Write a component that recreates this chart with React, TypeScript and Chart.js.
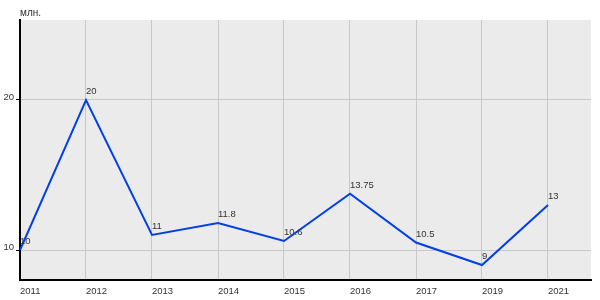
import React, { useEffect, useRef } from "react";
import { Chart, registerables } from "chart.js";

Chart.register(...registerables);

const years = ["2011", "2012", "2013", "2014", "2015", "2016", "2017", "2019", "2021"];
const values = [10, 20, 11, 11.8, 10.6, 13.75, 10.5, 9, 13];
const valueLabels = ["10", "20", "11", "11.8", "10.6", "13.75", "10.5", "9", "13"];
const yTicks = [10, 20];
const unitLabel = "млн.";

const FONT = "'Liberation Sans', Arial, sans-serif";

const labelPlugin = {
  id: "valueLabels",
  afterDatasetsDraw(chart: any) {
    const ctx = chart.ctx;
    const meta = chart.getDatasetMeta(0);
    ctx.save();
    ctx.font = `9.5px ${FONT}`;
    ctx.fillStyle = "#333";
    ctx.textAlign = "left";
    ctx.textBaseline = "alphabetic";
    meta.data.forEach((pt: any, i: number) => {
      ctx.fillText(valueLabels[i], pt.x, pt.y - 6);
    });
    ctx.font = `10px ${FONT}`;
    ctx.fillText(unitLabel, chart.chartArea.left, 16);
    ctx.restore();
  },
};

export default function App() {
  const ref = useRef<HTMLCanvasElement>(null);
  useEffect(() => {
    document.body.style.margin = "0";
    const chart = new Chart(ref.current!, {
      type: "line",
      data: {
        datasets: [
          {
            data: values.map((v, i) => ({ x: i, y: v })),
            borderColor: "#0040e8",
            borderWidth: 2,
            pointRadius: 0,
            tension: 0,
            fill: false,
          },
        ],
      },
      options: {
        animation: false,
        responsive: false,
        maintainAspectRatio: false,
        layout: { padding: { top: 20, right: 9, left: 0, bottom: 0 } },
        plugins: { legend: { display: false }, tooltip: { enabled: false } },
        scales: {
          x: {
            type: "linear",
            min: 0,
            max: 571 / 66,
            afterBuildTicks: (s: any) => {
              s.ticks = years.map((_, i) => ({ value: i }));
            },
            afterFit: (s: any) => {
              s.height = 20;
            },
            grid: { color: "#c8c8c8", lineWidth: 1, drawTicks: false },
            border: { color: "#000", width: 2 },
            ticks: {
              align: "start",
              padding: 6,
              color: "#333",
              font: { size: 9.5, family: FONT },
              callback: (v: any) => years[v as number] ?? "",
              maxRotation: 0,
              autoSkip: false,
            },
          },
          y: {
            min: 8,
            max: 8 + 260 / 15,
            afterBuildTicks: (s: any) => {
              s.ticks = yTicks.map((v) => ({ value: v }));
            },
            afterFit: (s: any) => {
              s.width = 20;
            },
            grid: { color: "#c8c8c8", lineWidth: 1, tickLength: 4, tickColor: "#000" },
            border: { color: "#000", width: 2 },
            ticks: {
              padding: 2,
              labelOffset: -3,
              color: "#333",
              font: { size: 9.5, family: FONT },
              callback: (v: any) => String(v),
            },
          },
        },
      },
      plugins: [
        {
          id: "bg",
          beforeDraw(chart: any) {
            const { ctx, chartArea: a } = chart;
            ctx.save();
            ctx.fillStyle = "#ebebeb";
            ctx.fillRect(a.left, a.top, a.right - a.left, a.bottom - a.top);
            ctx.restore();
          },
        },
        labelPlugin,
      ],
    } as any);
    return () => chart.destroy();
  }, []);
  return (
    <div style={{ width: 600, height: 300 }}>
      <canvas ref={ref} width={600} height={300} style={{ display: "block" }} />
    </div>
  );
}
